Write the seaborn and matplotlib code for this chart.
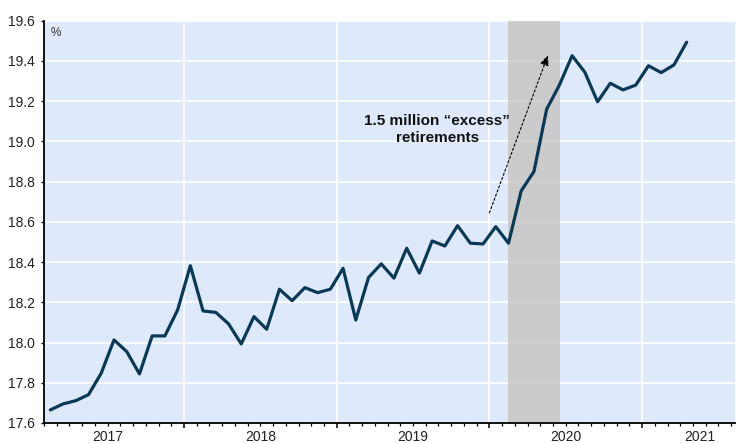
import matplotlib
matplotlib.use("Agg")
import matplotlib.pyplot as plt
import matplotlib.transforms as mtransforms
import numpy as np
import pandas as pd
import seaborn as sns

# ---- data ----
months = pd.period_range("2017-02", "2021-04", freq="M").strftime("%Y-%m").tolist()
retired_share = [
    17.665, 17.695, 17.711, 17.741, 17.848, 18.013, 17.955, 17.844, 18.033, 18.033, 18.162,
    18.382, 18.157, 18.150, 18.093, 17.993, 18.129, 18.066, 18.265, 18.208, 18.273, 18.248,
    18.265, 18.369, 18.112, 18.323, 18.391, 18.320, 18.469, 18.345, 18.505, 18.480, 18.581,
    18.494, 18.490, 18.576, 18.494, 18.754, 18.850, 19.160, 19.280, 19.426, 19.344, 19.197,
    19.289, 19.256, 19.280, 19.376, 19.342, 19.380, 19.493,
]
year_labels = ["2017", "2018", "2019", "2020", "2021"]
y_ticks = [17.6, 17.8, 18.0, 18.2, 18.4, 18.6, 18.8, 19.0, 19.2, 19.4, 19.6]
annotation_text = "1.5 million \u201cexcess\u201d\nretirements"

# ---- build frame: x = months since Jan 2017, observation plotted mid-period ----
base = pd.Period("2017-01", freq="M")
df = pd.DataFrame({"month": months, "share": retired_share})
df["x"] = [(pd.Period(m, freq="M") - base).n + 0.5 for m in df["month"]]

sns.set_theme(style="white")
plt.rcParams["font.family"] = ["Liberation Sans", "DejaVu Sans"]

fig = plt.figure(figsize=(7.36, 4.43), dpi=100)
ax = fig.add_axes([44 / 736, 20 / 443, 691 / 736, 402.3 / 443])
ax.set_facecolor("#DEEAFB")

# grid lines (white) drawn first
for yv in y_ticks:
    ax.axhline(yv, color="white", lw=1.2, zorder=1)
for xv in [12, 24, 36, 48]:
    ax.axvline(xv, color="white", lw=1.2, zorder=1)

# recession shading
ax.axvspan(37.45, 41.55, color=(0.78, 0.77, 0.755), alpha=0.8, lw=0, zorder=2)

sns.lineplot(data=df, x="x", y="share", ax=ax, color="#0A3956", lw=2.3, zorder=3)

ax.set_xlim(1.0, 55.3)
ax.set_ylim(17.6, 19.6)
ax.set_yticks(y_ticks)
ax.set_yticklabels([f"{v:.1f}" for v in y_ticks], fontsize=10, color="#222222")
ax.set_xticks([12, 24, 36, 48])
ax.set_xticklabels([])
ax.set_xticks(np.arange(1, 56), minor=True)
ax.tick_params(axis="x", which="major", direction="out", length=3.5, width=1.1, color="black", bottom=True)
ax.tick_params(axis="x", which="minor", direction="out", length=2.2, width=0.9, color="black", bottom=True)
ax.tick_params(axis="y", which="major", direction="out", length=2.5, width=1.0, color="black", left=True, pad=4)
ax.set_xlabel("")
ax.set_ylabel("")

for s in ["top", "right"]:
    ax.spines[s].set_visible(False)
for s in ["left", "bottom"]:
    ax.spines[s].set_visible(True)
    ax.spines[s].set_color("black")
    ax.spines[s].set_linewidth(1.3)
    ax.spines[s].set_zorder(5)

# year labels under the axis
trans = mtransforms.blended_transform_factory(ax.transData, ax.transAxes)
for lab, xc in zip(year_labels, [6, 18, 30, 42, 52.55]):
    ax.text(xc, -0.034, lab, transform=trans, ha="center", va="center", fontsize=10, color="#222222")

# unit label
ax.text(0.009, 0.985, "%", transform=ax.transAxes, ha="left", va="top", fontsize=8.5, color="#333333")

# annotation
ax.text(31.9, 19.06, annotation_text, ha="center", va="center", fontsize=11,
        fontweight="bold", color="#111111", linespacing=1.3, zorder=6)
ax.annotate("", xy=(40.6, 19.428), xytext=(36.0, 18.645),
            arrowprops=dict(arrowstyle="-|>,head_length=0.5,head_width=0.22", linestyle=(0, (2, 2)),
                            lw=0.8, color="black", shrinkA=0, shrinkB=0), zorder=6)

fig.savefig("out.png", dpi=100, facecolor="white")
